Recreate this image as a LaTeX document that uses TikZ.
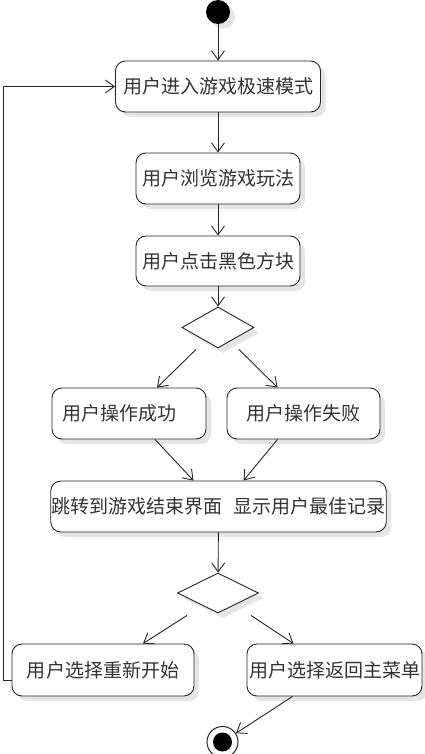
\documentclass[tikz,border=0pt]{standalone}
\usepackage{fontspec}
\usepackage{tikz}
\usetikzlibrary{arrows.meta,shapes.geometric,shadows}
\newfontfamily\cjk{Noto Sans CJK SC}

\begin{document}
\begin{tikzpicture}[x=1pt,y=-1pt]
		\useasboundingbox (0,0) rectangle (425,754);
		\tikzset{myshadow/.style={drop shadow={shadow xshift=5pt,shadow yshift=-5pt,fill=black!10,opacity=1}}} %styles
		\tikzset{myact/.style={draw=black!85,line width=0.9pt,rounded corners=10pt,fill=white,minimum height=51pt,inner xsep=1pt,inner ysep=0pt,text=black!80,font=\cjk\fontsize{19}{22}\selectfont,myshadow}}
		\tikzset{mychoice/.style={draw=black!85,line width=0.9pt,diamond,fill=white,inner sep=0pt,myshadow}}
		\tikzset{myflow/.style={draw=black!85,line width=0.9pt,-{Straight Barb[length=9pt,width=13pt]}}}
		\node[circle,fill=black,minimum size=24pt,inner sep=0pt,myshadow] (s) at (218,12) {}; %start
		\node[myact,minimum width=205pt] (a1) at (218,86.5) {用户进入游戏极速模式}; %actions
		\node[myact,minimum width=164pt] (a2) at (218,178.5) {用户浏览游戏玩法};
		\node[myact,minimum width=164pt,minimum height=50pt] (a3) at (218,261) {用户点击黑色方块};
		\node[mychoice,minimum width=72pt,minimum height=41pt] (c1) at (218,327.5) {}; %first choice
		\node[myact,text width=134pt,align=left,inner xsep=10pt] (ok) at (129,413.5) {用户操作成功};
		\node[myact,minimum width=153pt] (fail) at (303.5,413.5) {用户操作失败};
		\node[myact,minimum width=333pt] (show) at (218.5,506.5) {跳转到游戏结束界面\hspace{0.55em}显示用户最佳记录};
		\node[mychoice,minimum width=81pt,minimum height=40pt] (c2) at (218,593) {}; %second choice
		\node[myact,minimum width=182pt,minimum height=52pt] (restart) at (103,670) {用户选择重新开始};
		\node[myact,minimum width=175pt,minimum height=52pt] (menu) at (334.5,670) {用户选择返回主菜单};
		\node[circle,draw=black!85,line width=1pt,minimum size=31pt,inner sep=0pt,path picture={\fill (path picture bounding box.center) circle (9.5pt);}] (fin) at (222.5,742) {}; %end
		\foreach \a/\b in {s/a1,a1/a2,a2/a3,a3/c1,show/c2} %straight flows
			\draw[myflow] (\a) -- (\b);
		\draw[myflow] ([xshift=-22pt,yshift=-1pt]c1.south) -- ([xshift=28pt]ok.north); %branches
		\draw[myflow] ([xshift=21pt,yshift=-1pt]c1.south) -- ([xshift=-26pt]fail.north);
		\draw[myflow] ([xshift=26pt]ok.south) -- ([xshift=-25pt]show.north);
		\draw[myflow] ([xshift=-26pt]fail.south) -- ([xshift=25pt]show.north);
		\draw[myflow] ([xshift=-31pt,yshift=-2pt]c2.south) -- ([xshift=40pt]restart.north);
		\draw[myflow] ([xshift=33pt,yshift=-2pt]c2.south) -- ([xshift=-41pt]menu.north);
		\draw[myflow] ([xshift=-42pt]menu.south) -- (fin);
		\draw[myflow] ([yshift=-10pt]restart.west) -- ++(-8,0) |- (a1.west); %loop back
	\end{tikzpicture}
\end{document}
